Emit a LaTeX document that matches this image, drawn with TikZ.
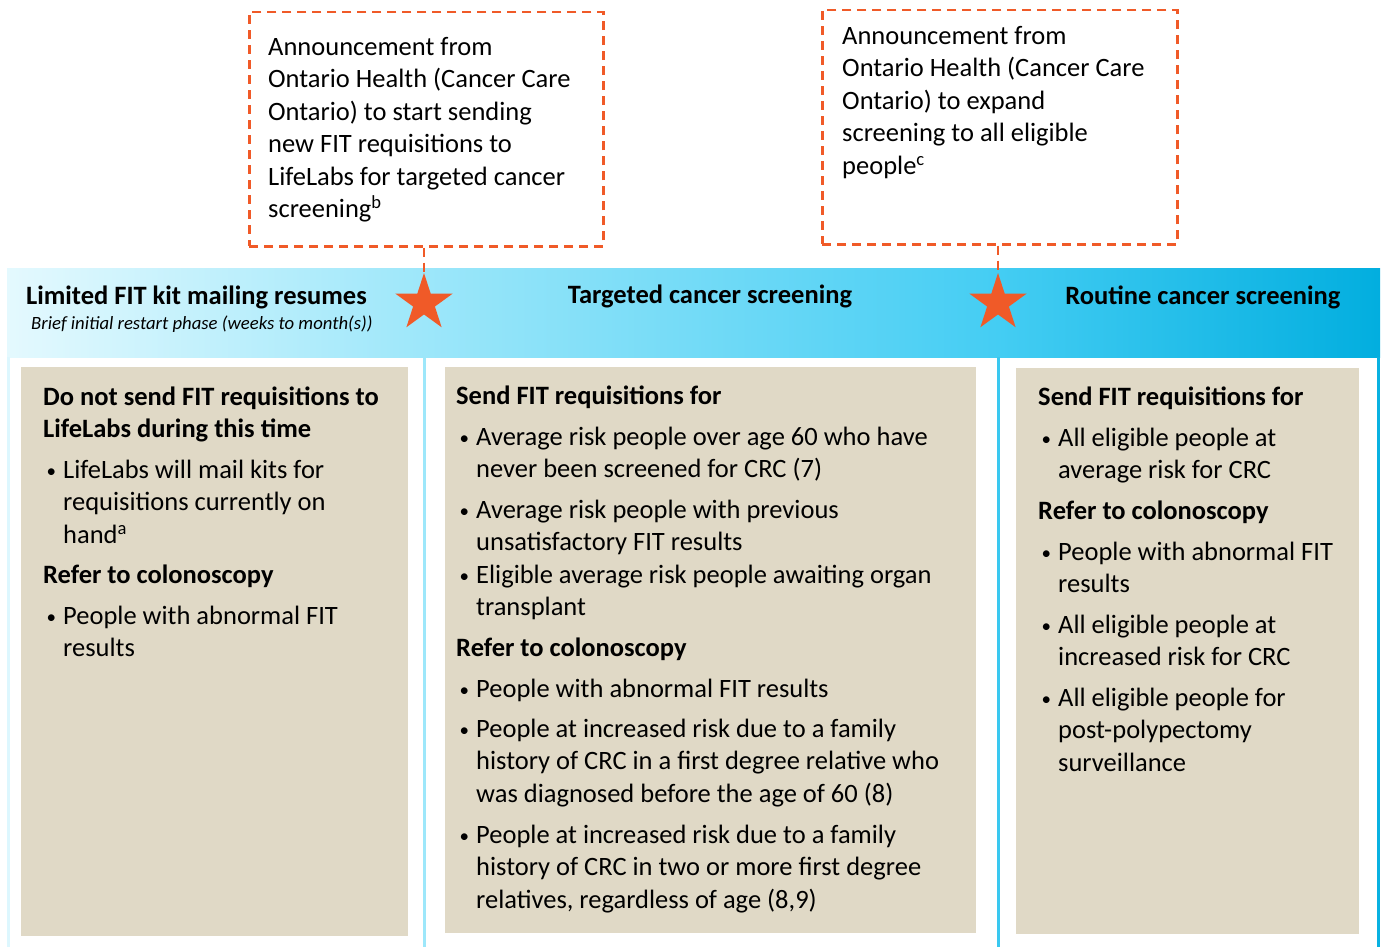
\documentclass[tikz,border=0pt]{standalone}
\usepackage{fontspec}
\setmainfont{Carlito}
\usetikzlibrary{shapes.geometric}
\definecolor{orng}{HTML}{F05A28}
\definecolor{beige}{HTML}{E0D9C6}
\definecolor{bandA}{HTML}{E4F9FE}
\definecolor{bandB}{HTML}{9DE7FA}
\definecolor{bandC}{HTML}{44CDF3}
\definecolor{bandD}{HTML}{02AEDF}
\newcommand\bodyfont{\fontsize{26.5}{32.5}\selectfont}
\newcommand\bul{\llap{\makebox[16.5pt][l]{\raisebox{1pt}{\fontsize{19}{19}\selectfont\textbullet}}}}
\begin{document}
\begin{tikzpicture}[x=1pt,y=-1pt,
  txt/.style={anchor=north west,inner sep=0pt,align=left,yshift=22.75pt,font=\bodyfont},
  hd/.style={txt,font=\bodyfont\bfseries},
  dbox/.style={draw=orng,dashed,dash pattern=on 9pt off 6pt,line width=2.5pt,anchor=north west,inner sep=0pt},
  panel/.style={fill=beige,anchor=north west,inner sep=0pt},
  starmark/.style={star,star points=5,star point ratio=2.618,minimum size=60pt,fill=orng,inner sep=0pt},
  conn/.style={draw=orng,dashed,dash pattern=on 9pt off 6pt,line width=2.5pt},
  colline/.style={line width=3pt}]
\useasboundingbox (0,0) rectangle (1383,947);
% gradient band
\fill[left color=bandA,right color=bandB] (7,268) rectangle (424.5,357);
\fill[left color=bandB,right color=bandC] (424,268) rectangle (998.5,357);
\fill[left color=bandC,right color=bandD] (998,268) rectangle (1380,357);
% column lines
\draw[colline,draw=bandA!90!bandB] (8,357) -- (8,947);
\draw[colline,draw=bandB] (424,357) -- (424,947);
\draw[colline,draw=bandC!85!bandD] (998,357) -- (998,947);
\draw[colline,draw=bandD!90!bandC] (1378,357) -- (1378,947);
% panels
\node[panel,minimum width=387pt,minimum height=569pt] (p1) at (21,367) {};
\node[panel,minimum width=531pt,minimum height=566pt] (p2) at (445,367) {};
\node[panel,minimum width=343pt,minimum height=566pt] (p3) at (1016,368) {};
% announcement boxes
\node[dbox,minimum width=354pt,minimum height=234pt] (b1) at (248,11) {};
\node[dbox,minimum width=355pt,minimum height=234pt] (b2) at (821,9) {};
\node[txt] (b1t) at (268,55) {\strut Announcement from\\Ontario Health (Cancer Care\\Ontario) to start sending\\new FIT requisitions to\\LifeLabs for targeted cancer\\screening\textsuperscript{b}};
\node[txt] (b2t) at (842,44) {\strut Announcement from\\Ontario Health (Cancer Care\\Ontario) to expand\\screening to all eligible\\people\textsuperscript{c}};
% stars and connectors
\node[starmark] (s1) at (424,303) {};
\node[starmark] (s2) at (998,303) {};
\draw[conn] (b1.south -| s1.north) -- (s1.north);
\draw[conn] (b2.south -| s2.north) -- (s2.north);
% band headings
\node[hd] (h1) at (26,304) {\strut Limited FIT kit mailing resumes};
\node[anchor=base west,inner sep=0pt,font=\fontsize{18.7}{22}\selectfont\itshape] (h1s) at (31,329) {Brief initial restart phase (weeks to month(s))};
\node[hd,anchor=north] (h2) at (710,303) {\strut Targeted cancer screening};
\node[hd,anchor=north] (h3) at (1203,304) {\strut Routine cancer screening};
% column 1
\node[hd] (c1a) at (43,405) {\strut Do not send FIT requisitions to\\LifeLabs during this time};
\node[txt] (c1b) at (63,478) {\strut\bul LifeLabs will mail kits for\\requisitions currently on\\hand\textsuperscript{a}};
\node[hd] (c1c) at (43,583) {\strut Refer to colonoscopy};
\node[txt] (c1d) at (63,624) {\strut\bul People with abnormal FIT\\results};
% column 2
\node[hd] (c2a) at (456,404) {\strut Send FIT requisitions for};
\node[txt] (c2b) at (476,445) {\strut\bul Average risk people over age 60 who have\\never been screened for CRC (7)};
\node[txt] (c2c) at (476,518) {\strut\bul Average risk people with previous\\unsatisfactory FIT results};
\node[txt] (c2d) at (476,583) {\strut\bul Eligible average risk people awaiting organ\\transplant};
\node[hd] (c2e) at (456,656) {\strut Refer to colonoscopy};
\node[txt] (c2f) at (476,697) {\strut\bul People with abnormal FIT results};
\node[txt] (c2g) at (476,737) {\strut\bul People at increased risk due to a family\\history of CRC in a first degree relative who\\was diagnosed before the age of 60 (8)};
\node[txt] (c2h) at (476,843) {\strut\bul People at increased risk due to a family\\history of CRC in two or more first degree\\relatives, regardless of age (8,9)};
% column 3
\node[hd] (c3a) at (1038,405) {\strut Send FIT requisitions for};
\node[txt] (c3b) at (1058,446) {\strut\bul All eligible people at\\average risk for CRC};
\node[hd] (c3c) at (1038,519) {\strut Refer to colonoscopy};
\node[txt] (c3d) at (1058,560) {\strut\bul People with abnormal FIT\\results};
\node[txt] (c3e) at (1058,633) {\strut\bul All eligible people at\\increased risk for CRC};
\node[txt] (c3f) at (1058,706) {\strut\bul All eligible people for\\post-polypectomy\\surveillance};
\end{tikzpicture}
\end{document}
